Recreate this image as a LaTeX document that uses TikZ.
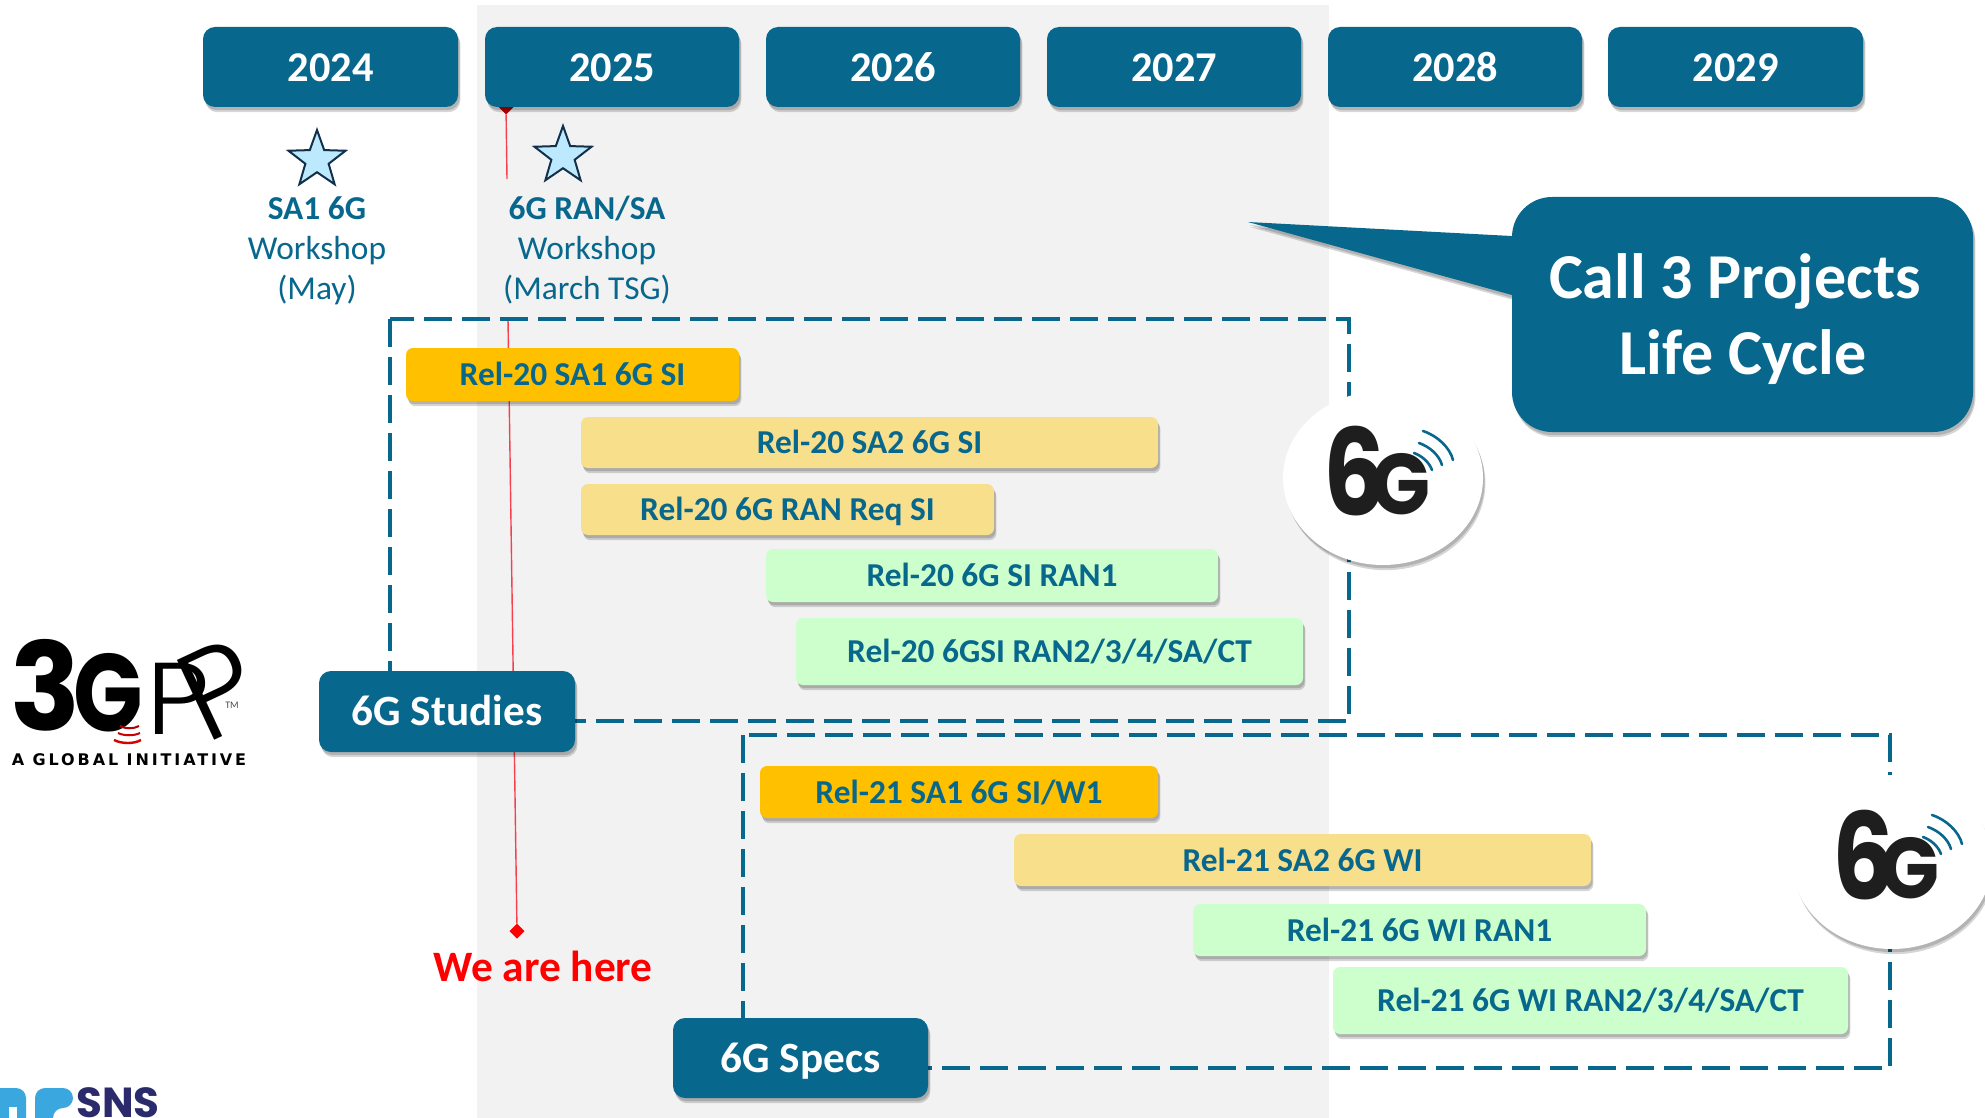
\documentclass[tikz,border=0pt]{standalone}
\usepackage{fontspec}
\setmainfont{Carlito}
\newfontfamily\logofont{Poppins}[BoldFont={Poppins Bold}]
\newfontfamily\thinfont{Poppins Light}
\newfontfamily\wordfont{DejaVu Sans}
\usetikzlibrary{shapes.geometric,shadows,calc}
\definecolor{ink}{HTML}{08678C}
\definecolor{band}{HTML}{F2F2F2}
\definecolor{amber}{HTML}{FFC000}
\definecolor{sand}{HTML}{F7DF8C}
\definecolor{mint}{HTML}{CCFFCC}
\definecolor{sky}{HTML}{BDE9FF}
\definecolor{starline}{HTML}{12304A}
\definecolor{redline}{HTML}{F5404F}
\definecolor{snsblue}{HTML}{3BA7DF}
\definecolor{snsnavy}{HTML}{2A2A6C}
\definecolor{logoblack}{HTML}{1E1E1E}
\tikzset{
  softshadow/.style={
    drop shadow={shadow xshift=.8pt,shadow yshift=-1.6pt,opacity=.16,fill=black},
    drop shadow={shadow xshift=1.2pt,shadow yshift=-2.6pt,opacity=.16,fill=black}},
  blockbase/.style={rectangle,inner sep=0pt,outer sep=0pt,softshadow,align=center,text height=11.2pt,text depth=0pt},
  yearbox/.style={blockbase,fill=ink,rounded corners=6pt,text=white,font=\fontsize{21.2}{25}\selectfont\bfseries,text height=14.5pt},
  headbox/.style={blockbase,fill=ink,rounded corners=6pt,text=white,font=\fontsize{21.6}{25}\selectfont\bfseries,text height=14.3pt},
  barbox/.style={blockbase,rounded corners=3.5pt,text=ink,font=\fontsize{16.7}{19}\selectfont\bfseries},
  ambbar/.style={barbox,fill=amber},
  sandbar/.style={barbox,fill=sand},
  mintbar/.style={barbox,fill=mint},
  dashbox/.style={draw=ink,line width=1.7pt,dash pattern=on 14pt off 5pt},
  redlink/.style={draw=redline,line width=.7pt},
  starmark/.style={star,star points=5,star point ratio=2.45,draw=starline,fill=sky,line width=1pt,minimum size=30pt,inner sep=0pt,outer sep=0pt},
  wstext/.style={text=ink,align=center,inner sep=0pt,font=\fontsize{16.7}{20}\selectfont},
  logoround/.style={ellipse,fill=white,minimum width=100pt,minimum height=87pt,inner sep=0pt,softshadow},
  wavearc/.style={draw=ink,line width=1.3pt,line cap=round},
  tdiamond/.style={diamond,inner sep=0pt,outer sep=0pt,minimum size=7.5pt}
}
\newcommand{\blk}[7]{%
  \pgfmathsetmacro{\blkW}{(#4-#2)*0.5}%
  \pgfmathsetmacro{\blkH}{(#5-#3)*0.5}%
  \pgfmathsetmacro{\blkX}{(#2+#4)/2}%
  \pgfmathsetmacro{\blkY}{(#3+#5)/2}%
  \node[#6,minimum width=\blkW pt,minimum height=\blkH pt] (#1) at (\blkX,\blkY) {#7};%
}
\newcommand{\sixglogo}[3]{%
  \begin{scope}[shift={(#2,#3)}]
    \node[logoround] (#1round) at (1383,478) {};
    \node[text=logoblack,inner sep=0pt,xscale=.82,transform shape,font=\fontsize{60}{60}\selectfont\logofont\bfseries,anchor=base] (#1six) at (1355,515) {6};
    \node[text=logoblack,inner sep=0pt,xscale=.9,transform shape,font=\fontsize{43}{43}\selectfont\logofont\bfseries,anchor=base] (#1gee) at (1401,514) {G};
    \draw[wavearc] (1423,431) .. controls (1438,436) and (1450,448) .. (1453,460);
    \draw[wavearc] (1419,443) .. controls (1430,447) and (1439,455) .. (1442,465);
    \draw[wavearc] (1414,453) .. controls (1422,456) and (1429,462) .. (1432,470);
  \end{scope}%
}
\begin{document}
\begin{tikzpicture}[x=0.5pt,y=-0.5pt]
\useasboundingbox (0,0) rectangle (1985,1118);
\clip (0,0) rectangle (1985,1118);
\fill[white] (0,0) rectangle (1985,1118);
\fill[band] (477,5) rectangle (1329,1118);

% red timeline
\node[tdiamond,fill=red!75!black] (redtop) at (506,107) {};
\node[tdiamond,fill=red] (redend) at (517,931) {};
\coordinate (redgapa) at (507,179);
\coordinate (redgapb) at (508,319);
\draw[redlink] (redtop) -- (redgapa);
\draw[redlink] (redgapb) -- (redend);

% dashed frames
\coordinate (frameAa) at (390,319);
\coordinate (frameAb) at (1349,721);
\coordinate (frameBa) at (743,735);
\coordinate (frameBb) at (1890,1068);
\draw[dashbox] (frameAa) rectangle (frameAb);
\draw[dashbox] (frameBa) rectangle (frameBb);

% years
\blk{yA}{203}{27}{458}{107}{yearbox}{2024}
\blk{yB}{485}{27}{739}{107}{yearbox}{2025}
\blk{yC}{766}{27}{1020}{107}{yearbox}{2026}
\blk{yD}{1047}{27}{1301}{107}{yearbox}{2027}
\blk{yE}{1328}{27}{1582}{107}{yearbox}{2028}
\blk{yF}{1608}{27}{1863}{107}{yearbox}{2029}

% workshops
\node[starmark] (starA) at (317,160) {};
\node[starmark] (starB) at (563,156) {};
\node[wstext] (wsA) at (317,250.5) {\textbf{SA1 6G}\\Workshop\\(May)};
\node[wstext] (wsB) at (587,250.5) {\textbf{6G RAN/SA}\\Workshop\\(March TSG)};

% bars
\blk{bA}{406}{348}{739}{401}{ambbar}{Rel-20 SA1 6G SI}
\blk{bB}{581}{417}{1158}{468}{sandbar}{Rel-20 SA2 6G SI}
\blk{bC}{581}{484}{994}{535}{sandbar}{Rel-20 6G RAN Req SI}
\blk{bD}{766}{549}{1218}{602}{mintbar}{Rel-20 6G SI RAN1}
\blk{bE}{796}{618}{1303}{685}{mintbar}{Rel-20 6GSI RAN2/3/4/SA/CT}
\blk{bF}{760}{766}{1158}{818}{ambbar}{Rel-21 SA1 6G SI/W1}
\blk{bG}{1014}{834}{1591}{886}{sandbar}{Rel-21 SA2 6G WI}
\blk{bH}{1193}{904}{1646}{956}{mintbar}{Rel-21 6G WI RAN1}
\blk{bI}{1333}{967}{1848}{1034}{mintbar}{Rel-21 6G WI RAN2/3/4/SA/CT}
\blk{hA}{319}{671}{575}{752}{headbox}{6G Studies}
\blk{hB}{673}{1018}{928}{1098}{headbox}{6G Specs}

% We are here
\node[anchor=base,inner sep=0pt,text=red,font=\fontsize{21.7}{25}\selectfont\bfseries] (here) at (543,981) {We are here};

% 6G logos
\sixglogo{lgA}{0}{0}
\sixglogo{lgB}{509}{384}

% callout
\coordinate (tip) at (1248,222);
\coordinate (tipa) at (1530,237);
\coordinate (tipb) at (1530,300);
\fill[ink,softshadow] (tip) -- (tipa) -- (tipb) -- cycle;
\blk{call}{1512}{197}{1973}{432}{rectangle,fill=ink,rounded corners=20pt,softshadow,inner sep=0pt}{}
\node[text=white,align=center,inner sep=0pt,font=\fontsize{32}{38}\selectfont\bfseries] (calltext) at (1741,319) {Call 3 Projects\hspace*{6pt}\\\hspace*{2pt}Life Cycle};

% 3GPP logo
\node[inner sep=0pt,text=black,xscale=.95,transform shape,font=\fontsize{61}{61}\selectfont\logofont\bfseries] (tgthree) at (46,685) {3};
\node[inner sep=0pt,text=black,xscale=.83,transform shape,font=\fontsize{55}{55}\selectfont\logofont\bfseries] (tggee) at (108,693) {G};
\node[inner sep=0pt,text=black,xscale=1.1,transform shape,font=\fontsize{51}{51}\selectfont\thinfont] (tgpa) at (178,699) {P};
\node[inner sep=0pt,text=black,rotate=25,font=\fontsize{63}{63}\selectfont\thinfont] (tgpb) at (219,690) {P};
\node[anchor=base,inner sep=0pt,text=black!70,font=\fontsize{5}{5}\selectfont] (tgtm) at (232,708) {TM};
\draw[red!70!black,line width=1pt] (120,726) .. controls (125,729) and (134,729) .. (139,726);
\draw[red!80!black,line width=1pt] (118,733) .. controls (124,736) and (134,736) .. (140,733);
\draw[red!85!black,line width=1.2pt] (114,740) .. controls (122,744) and (134,744) .. (141,740);
\node[anchor=base,inner sep=0pt,text=black,font=\fontsize{8}{8}\selectfont\wordfont\bfseries\addfontfeature{LetterSpace=18}] (tgword) at (129,765) {A GLOBAL INITIATIVE};

% SNS logo
\fill[snsblue,rounded corners=5pt] (-10,1088) -- (26,1088) -- (26,1130) -- (-10,1130) -- cycle;
\fill[white] (9,1107) rectangle (17,1118);
\fill[snsblue,rounded corners=5pt] (35,1130) -- (35,1088) -- (73,1088) -- (73,1108) -- (53,1108) -- (53,1130) -- cycle;
\node[anchor=base,inner sep=0pt,text=snsnavy,font=\fontsize{21}{21}\selectfont\logofont\bfseries] (snsname) at (118,1117) {SNS};
\end{tikzpicture}
\end{document}
